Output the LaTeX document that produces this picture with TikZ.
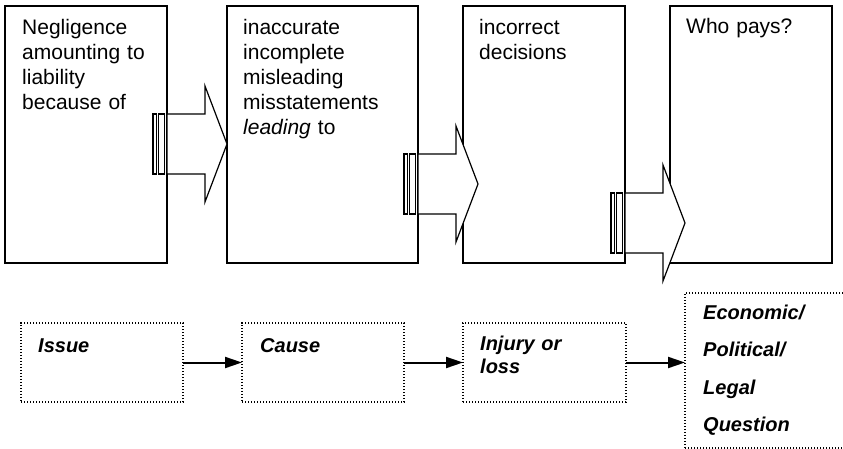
\documentclass[tikz,border=0pt]{standalone}
\usepackage{fontspec}
\setmainfont{Liberation Sans}
\usetikzlibrary{arrows.meta,calc}
\begin{document}
\begin{tikzpicture}[x=1pt,y=-1pt,
  topbox/.style={draw=black,line width=1.2pt,minimum height=257pt,inner sep=0pt,outer sep=0pt,anchor=north west},
  dotbox/.style={draw=black,line width=1.1pt,dash pattern=on 1.1pt off 1.9pt,inner sep=0pt,outer sep=0pt,anchor=north west},
  toptext/.style={anchor=base west,inner sep=0pt,align=left,text width=150pt,font=\fontsize{21}{25}\selectfont},
  bottext/.style={anchor=base west,inner sep=0pt,align=left,text width=140pt,font=\fontsize{20}{23}\selectfont\bfseries\itshape},
  conn/.style={line width=2pt,-{Triangle[length=17pt,width=11pt]}},
  pics/stripedarrow/.style={code={
    \draw[line width=1.2pt,fill=white,line join=miter] (0,-30) -- (38,-30) -- (38,-58) -- (60,0) -- (38,58) -- (38,30) -- (0,30) -- cycle;
    \draw[line width=1.1pt,fill=white] (-14,-30) rectangle (-10.5,30);
    \draw[line width=1.1pt,fill=white] (-8.5,-30) rectangle (-2.5,30);
  }}
]
\useasboundingbox (0,0) rectangle (843,449);
\clip (0,0) rectangle (843,449);

% top boxes
\node[topbox,minimum width=162pt] (b1) at (5,6) {};
\node[topbox,minimum width=191pt] (b2) at (227,6) {};
\node[topbox,minimum width=162pt] (b3) at (463,6) {};
\node[topbox,minimum width=162pt] (b4) at (670,6) {};

\node[toptext] (t1) at ($(b1.north west)+(17,29)$) {Negligence\\amounting to\\liability\\because of};
\node[toptext] (t2) at ($(b2.north west)+(16,29)$) {inaccurate\\incomplete\\misleading\\misstatements\\\textit{leading} to};
\node[toptext] (t3) at ($(b3.north west)+(16,29)$) {incorrect\\decisions};
\node[toptext] (t4) at ($(b4.north west)+(16,28)$) {Who pays?};

% striped arrows
\coordinate (a1) at (b1.east |- 0,144);
\coordinate (a2) at (b2.east |- 0,184);
\coordinate (a3) at (b3.east |- 0,223);
\pic at (a1) {stripedarrow};
\pic at (a2) {stripedarrow};
\pic at (a3) {stripedarrow};

% bottom boxes
\node[dotbox,minimum width=162pt,minimum height=79pt] (issue) at (21,323) {};
\node[dotbox,minimum width=162pt,minimum height=79pt] (cause) at (242,323) {};
\node[dotbox,minimum width=163pt,minimum height=79pt] (injury) at (463,323) {};
\node[dotbox,minimum width=165pt,minimum height=155pt] (econ) at (685,293) {};

\node[bottext] (ti) at ($(issue.north west)+(17,29)$) {Issue};
\node[bottext] (tc) at ($(cause.north west)+(18,29)$) {Cause};
\node[bottext] (tj) at ($(injury.north west)+(17,27)$) {Injury or\\loss};
\node[bottext,font=\fontsize{20}{37.5}\selectfont\bfseries\itshape] (te) at ($(econ.north west)+(18,26)$) {Economic/\\Political/\\Legal\\Question};

\draw[conn] (issue.east) -- (cause.west);
\draw[conn] (cause.east) -- (injury.west);
\draw[conn] (injury.east) -- (injury.east -| econ.west);
\end{tikzpicture}
\end{document}
